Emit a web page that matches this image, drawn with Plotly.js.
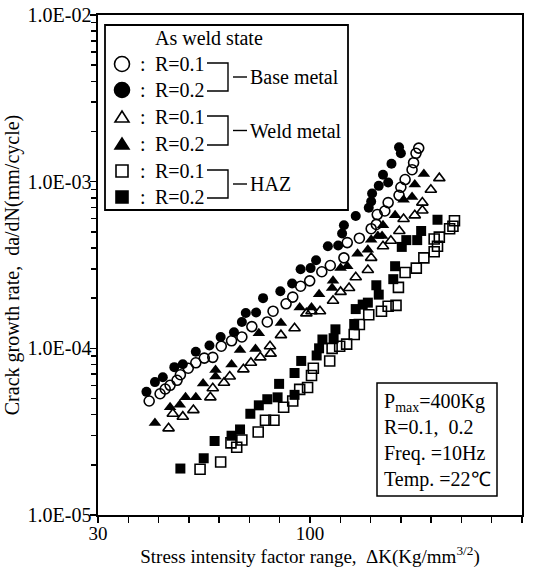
<!DOCTYPE html>
<html><head><meta charset="utf-8">
<script src="https://cdn.plot.ly/plotly-3.0.1.min.js"></script>
<style>html,body{margin:0;padding:0;background:#fff;}#chart{width:534px;height:568px;}</style>
</head><body><div id="chart"></div>
<script>
// Base metal
const baseR01_x = [46.9,50.5,52.2,53.8,56.1,57.2,59.8,62.3,65.1,67.9,70.7,74.1,77.5,80.8,85.9,87.8,92.1,94.3,96.9,99.9,103.9,106.7,111.2,112.3,116.3,120.2,121.9,122.2,124.7,125.8,129.4,130.0,131.4,133.7,134.2,135.0,135.9];
const baseR01_y = [4.83e-5,5.34e-5,5.70e-5,6.00e-5,6.43e-5,6.94e-5,7.60e-5,8.19e-5,8.74e-5,8.83e-5,1.03e-4,1.11e-4,1.17e-4,1.35e-4,1.44e-4,1.67e-4,1.85e-4,2.03e-4,2.36e-4,2.54e-4,2.88e-4,3.14e-4,3.49e-4,4.31e-4,4.58e-4,5.22e-4,5.54e-4,6.35e-4,6.67e-4,7.49e-4,8.28e-4,9.26e-4,1.03e-3,1.18e-3,1.30e-3,1.48e-3,1.59e-3];
const baseR02_x = [46.0,48.8,51.4,55.2,58.0,62.3,66.8,70.5,74.9,77.5,78.8,82.2,84.5,90.2,94.1,96.9,100.2,102.0,105.9,109.3,110.6,111.2,115.1,119.4,120.2,120.5,122.7,124.1,125.8,126.9,129.4,130.0];
const baseR02_y = [5.48e-5,6.27e-5,6.70e-5,7.71e-5,8.03e-5,9.53e-5,1.04e-4,1.17e-4,1.25e-4,1.44e-4,1.63e-4,1.64e-4,2.0e-4,2.20e-4,2.45e-4,2.98e-4,3.03e-4,3.38e-4,4.10e-4,4.14e-4,4.89e-4,5.48e-4,6.22e-4,6.98e-4,7.60e-4,8.50e-4,9.44e-4,1.10e-3,9.88e-4,1.28e-3,1.61e-3,1.48e-3];
// Weld metal
const weldR01_x = [53.3,54.7,58.0,61.5,67.1,67.9,71.6,73.5,78.0,80.5,83.6,87.0,86.8,90.4,94.9,98.8,100.5,103.3,107.6,110.1,112.9,115.1,119.1,120.2,124.1,126.7,129.5,130.9,134.6,137.1,137.1,139.9,142.7];
const weldR01_y = [3.31e-5,4.05e-5,3.89e-5,4.26e-5,5.08e-5,5.76e-5,6.21e-5,6.77e-5,7.48e-5,8.19e-5,8.83e-5,9.29e-5,1.03e-4,1.20e-4,1.32e-4,1.62e-4,1.67e-4,1.67e-4,1.93e-4,2.18e-4,2.30e-4,2.67e-4,2.95e-4,3.49e-4,4.10e-4,4.42e-4,5.06e-4,5.97e-4,6.28e-4,6.71e-4,7.49e-4,8.94e-4,1.05e-3];
const weldR02_x = [48.8,53.8,57.0,58.9,62.3,64.7,68.8,68.8,74.1,76.9,82.0,83.1,90.4,96.6,100.5,103.0,107.3,107.6,110.1,112.3,115.7,119.1,120.2,122.4,123.8,124.1,128.1,130.9,133.7,134.6,137.6];
const weldR02_y = [3.57e-5,4.43e-5,4.59e-5,5.08e-5,5.08e-5,6.15e-5,6.77e-5,7.41e-5,7.99e-5,9.76e-5,9.92e-5,1.23e-4,1.42e-4,1.76e-4,1.76e-4,2.11e-4,2.30e-4,2.54e-4,3.03e-4,3.11e-4,3.70e-4,3.90e-4,4.48e-4,4.72e-4,4.72e-4,5.48e-4,6.28e-4,7.80e-4,8.08e-4,9.63e-4,1.11e-3];
// HAZ
const hazR01_x = [63.7,70.5,73.9,75.8,77.5,82.9,85.3,88.1,91.3,94.3,96.6,99.2,100.5,101.1,106.5,107.3,109.8,112.1,114.6,116.3,119.4,123.6,125.8,128.4,129.2,131.4,135.1,137.6,141.0,142.1,141.0,142.7,146.1,147.7,147.2];
const hazR01_y = [1.88e-5,2.08e-5,2.71e-5,2.55e-5,2.82e-5,3.15e-5,3.70e-5,3.70e-5,4.43e-5,4.83e-5,5.67e-5,5.82e-5,6.87e-5,7.60e-5,8.40e-5,1.00e-4,1.03e-4,1.06e-4,1.21e-4,1.39e-4,1.59e-4,1.67e-4,1.79e-4,1.81e-4,2.32e-4,2.85e-4,3.03e-4,3.49e-4,3.80e-4,4.10e-4,4.53e-4,4.65e-4,5.22e-4,5.83e-4,5.40e-4];
const hazR02_x = [57.2,64.9,68.5,74.1,76.9,80.3,83.1,85.9,89.3,89.8,94.9,94.9,97.1,102.2,103.0,104.1,107.8,108.4,114.6,115.1,117.4,119.1,121.9,122.7,127.5,128.1,130.3,131.8,135.4,136.7,142.1];
const hazR02_y = [1.90e-5,2.19e-5,2.78e-5,2.99e-5,3.26e-5,4.05e-5,4.55e-5,4.95e-5,5.08e-5,6.12e-5,5.26e-5,7.11e-5,8.40e-5,9.06e-5,1.00e-4,1.13e-4,1.15e-4,1.30e-4,1.40e-4,1.72e-4,1.83e-4,1.88e-4,2.39e-4,2.10e-4,2.60e-4,3.11e-4,4.06e-4,4.46e-4,4.46e-4,5.06e-4,5.91e-4];

const xTickVals = [30,100,170];
const xTickText = ['30','100','170'];
const xMinorVals = [40,50,60,70,80,90,110,120,130,140,150,160];
const yTickVals = [1e-5,1e-4,1e-3,1e-2];
const yTickText = ['1.0E-05','1.0E-04','1.0E-03','1.0E-02'];
const yMinorVals = [2e-5,3e-5,4e-5,5e-5,6e-5,7e-5,8e-5,9e-5,2e-4,3e-4,4e-4,5e-4,6e-4,7e-4,8e-4,9e-4,2e-3,3e-3,4e-3,5e-3,6e-3,7e-3,8e-3,9e-3];

const legendTitle = 'As weld state';
const rowLabels = ['R=0.1','R=0.2','R=0.1','R=0.2','R=0.1','R=0.2'];
const groupLabels = ['Base metal','Weld metal','HAZ'];
const infoLines = ['P<sub>max</sub>=400Kg','R=0.1,  0.2','Freq. =10Hz','Temp. =22℃'];

const FONT = '"Liberation Serif", "Times New Roman", serif';
const L=98, R=522, T=15, B=515;
function px(X){return (X-L)/(R-L);}
function py(Y){return (B-Y)/(B-T);}

function tr(x,y,name,symbol,size){
  const filled = symbol.indexOf('open')<0;
  return {x:x, y:y, type:'scatter', mode:'markers', name:name, showlegend:false,
    marker:{symbol:symbol, size:size, color:'#000', line:{color:'#000', width: filled?0:1.6}}};
}
const traces = [
  tr(baseR01_x, baseR01_y, 'Base metal R=0.1', 'circle-open', 10),
  tr(baseR02_x, baseR02_y, 'Base metal R=0.2', 'circle', 10),
  tr(weldR01_x, weldR01_y, 'Weld metal R=0.1', 'triangle-up-open', 10),
  tr(weldR02_x, weldR02_y, 'Weld metal R=0.2', 'triangle-up', 11),
  tr(hazR01_x, hazR01_y, 'HAZ R=0.1', 'square-open', 10),
  tr(hazR02_x, hazR02_y, 'HAZ R=0.2', 'square', 10)
];

const rowsY = [64,90,117,144,171,197];
const shapes = [];
const annotations = [];
const TF = {family:FONT, size:20, color:'#000'};
// legend frame
shapes.push({type:'rect', xref:'paper', yref:'paper', x0:px(105), x1:px(348), y0:py(210), y1:py(25), line:{color:'#000', width:1.8}});
// info frame
shapes.push({type:'rect', xref:'paper', yref:'paper', x0:px(377), x1:px(497), y0:py(496), y1:py(383), line:{color:'#000', width:1.5}});
// legend icons
function icon(kind, filled, Y){
  const base = {xref:'paper', yref:'paper', xsizemode:'pixel', ysizemode:'pixel', xanchor:px(122), yanchor:py(Y),
    line:{color:'#000', width:1.6}, fillcolor: filled?'#000':'rgba(0,0,0,0)'};
  if(kind==='circle') return Object.assign(base,{type:'circle', x0:-7.5, x1:7.5, y0:-7.5, y1:7.5});
  if(kind==='square') return Object.assign(base,{type:'rect', x0:-6, x1:6, y0:-6, y1:6});
  return Object.assign(base,{type:'path', path:'M -7,-5 L 7,-5 L 0,6 Z'});
}
const kinds = ['circle','circle','tri','tri','square','square'];
rowsY.forEach((Y,i)=>{
  shapes.push(icon(kinds[i], i%2===1, Y));
  annotations.push({xref:'paper', yref:'paper', x:px(143), y:py(Y), text:':', showarrow:false, xanchor:'center', yanchor:'middle', font:TF});
  annotations.push({xref:'paper', yref:'paper', x:px(153), y:py(Y), text:rowLabels[i], showarrow:false, xanchor:'left', yanchor:'middle', font:TF});
});
// brackets, dashes and group labels
for(let g=0; g<3; g++){
  const y1 = rowsY[2*g]-1, y2 = rowsY[2*g+1]+1, ym = (rowsY[2*g]+rowsY[2*g+1])/2;
  shapes.push({type:'path', xref:'paper', yref:'paper',
    path:`M ${px(207)},${py(y1)} L ${px(228)},${py(y1)} L ${px(228)},${py(y2)} L ${px(207)},${py(y2)}`,
    line:{color:'#000', width:1.4}});
  shapes.push({type:'line', xref:'paper', yref:'paper', x0:px(233), x1:px(247), y0:py(ym), y1:py(ym), line:{color:'#000', width:1.4}});
  annotations.push({xref:'paper', yref:'paper', x:px(248), y:py(ym), text:groupLabels[g], showarrow:false, xanchor:'left', yanchor:'middle', font:TF});
}
annotations.push({xref:'paper', yref:'paper', x:px(209), y:py(38), text:legendTitle, showarrow:false, xanchor:'center', yanchor:'middle', font:TF});
// info box text
const infoY = [402,427,453,479];
infoLines.forEach((t,i)=>{
  annotations.push({xref:'paper', yref:'paper', x:px(382), y:py(infoY[i]), text:t, showarrow:false, xanchor:'left', yanchor:'middle', font:TF});
});

const layout = {
  width:534, height:568,
  margin:{l:L, r:534-R, t:T, b:568-B, pad:0},
  paper_bgcolor:'#fff', plot_bgcolor:'#fff',
  showlegend:false,
  font:{family:FONT, color:'#000'},
  xaxis:{range:[30,170], tickmode:'array', tickvals:xTickVals, ticktext:xTickText,
    ticks:'outside', ticklen:6, tickwidth:1.5, tickcolor:'#000', ticklabelstandoff:-5,
    minor:{tickmode:'array', tickvals:xMinorVals, ticks:'outside', ticklen:6, tickwidth:1.5, tickcolor:'#000', showgrid:false},
    showline:true, linecolor:'#000', linewidth:1.6, mirror:true, showgrid:false, zeroline:false,
    tickfont:{family:FONT, size:19, color:'#000'},
    title:{text:'Stress intensity factor range,  ΔK(Kg/mm<sup>3/2</sup>)', font:{family:FONT, size:19, color:'#000'}, standoff:9}},
  yaxis:{type:'log', range:[-5,-2], tickmode:'array', tickvals:yTickVals, ticktext:yTickText,
    ticks:'outside', ticklen:6, tickwidth:1.5, tickcolor:'#000', ticklabelstandoff:-5,
    minor:{tickmode:'array', tickvals:yMinorVals, ticks:'outside', ticklen:5, tickwidth:1.4, tickcolor:'#000', showgrid:false},
    showline:true, linecolor:'#000', linewidth:1.6, mirror:true, showgrid:false, zeroline:false,
    tickfont:{family:FONT, size:20, color:'#000'},
    title:{text:'Crack growth rate,  da/dN(mm/cycle)', font:{family:FONT, size:20, color:'#000'}, standoff:2}},
  shapes:shapes,
  annotations:annotations
};
Plotly.newPlot('chart', traces, layout, {staticPlot:true, displayModeBar:false});
</script>
</body></html>
